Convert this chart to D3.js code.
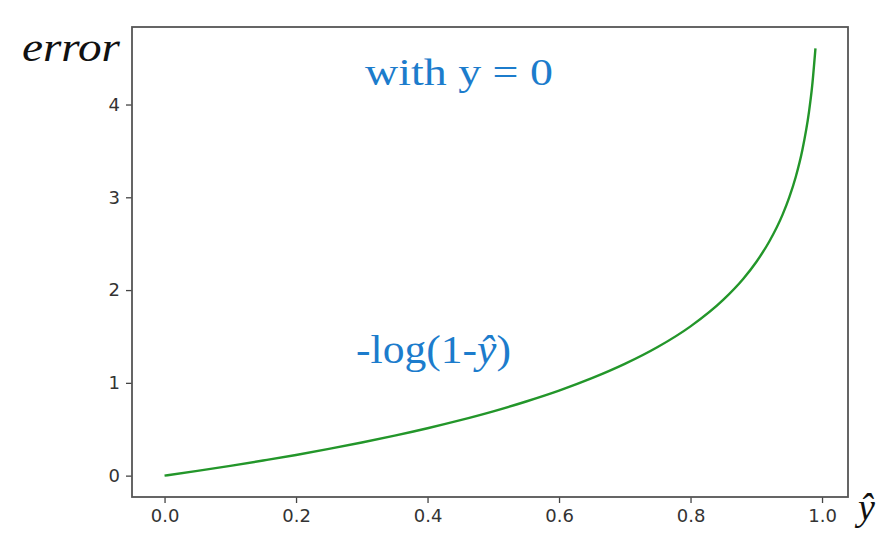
<!DOCTYPE html>
<html>
<head>
<meta charset="utf-8">
<script src="https://cdn.jsdelivr.net/npm/d3@7"></script>
<style>
  html, body { margin: 0; padding: 0; background: #fff; }
  svg { display: block; }
</style>
</head>
<body>
<svg id="chart" width="891" height="542"></svg>
<script>
// Data
const xValues = [0, 0.05, 0.1, 0.15, 0.2, 0.25, 0.3, 0.35, 0.4, 0.45, 0.5, 0.55, 0.6, 0.65, 0.7, 0.75, 0.8, 0.85, 0.88, 0.9, 0.92, 0.94, 0.95, 0.96, 0.97, 0.98, 0.985, 0.99];
const errorValues = [0, 0.051, 0.105, 0.163, 0.223, 0.288, 0.357, 0.431, 0.511, 0.598, 0.693, 0.799, 0.916, 1.05, 1.204, 1.386, 1.609, 1.897, 2.12, 2.303, 2.526, 2.813, 2.996, 3.219, 3.507, 3.912, 4.2, 4.605];
const xTicks = [0.0, 0.2, 0.4, 0.6, 0.8, 1.0];
const yTicks = [0, 1, 2, 3, 4];
const yLabel = "error";
const xLabel = "ŷ";
const titleText = "with y = 0";
const curveLabel = "-log(1-";

const svg = d3.select("#chart");
const plot = { left: 132, right: 848, top: 27, bottom: 497 };

const x = d3.scaleLinear().domain([-0.0495, 1.0395]).range([plot.left, plot.right]);
const y = d3.scaleLinear().domain([-0.2303, 4.8355]).range([plot.bottom, plot.top]);

// curve
const pts = xValues.map((v, i) => [v, errorValues[i]]);
svg.append("path")
  .datum(pts)
  .attr("fill", "none")
  .attr("stroke", "#23962a")
  .attr("stroke-width", 2.4)
  .attr("d", d3.line().x(d => x(d[0])).y(d => y(d[1])).curve(d3.curveMonotoneX));

// axes
const xAxis = d3.axisBottom(x).tickValues(xTicks).tickFormat(d3.format(".1f")).tickSize(6).tickSizeOuter(0).tickPadding(6);
const yAxis = d3.axisLeft(y).tickValues(yTicks).tickFormat(d3.format("d")).tickSize(6).tickSizeOuter(0).tickPadding(6);

const gx = svg.append("g").attr("transform", `translate(0,${plot.bottom})`).call(xAxis);
const gy = svg.append("g").attr("transform", `translate(${plot.left},0)`).call(yAxis);
[gx, gy].forEach(g => {
  g.select(".domain").remove();
  g.selectAll(".tick line").attr("stroke", "#444").attr("stroke-width", 1.3);
  g.selectAll(".tick text").attr("fill", "#333")
    .style("font-family", "'DejaVu Sans', sans-serif").style("font-size", "18px");
});

// frame
svg.append("rect")
  .attr("x", plot.left).attr("y", plot.top)
  .attr("width", plot.right - plot.left).attr("height", plot.bottom - plot.top)
  .attr("fill", "none").attr("stroke", "#555").attr("stroke-width", 1.8);

// axis labels
svg.append("text")
  .attr("x", 22).attr("y", 61)
  .attr("textLength", 98).attr("lengthAdjust", "spacingAndGlyphs")
  .style("font-family", "'Liberation Serif', 'DejaVu Serif', serif")
  .style("font-style", "italic").style("font-size", "40px").attr("fill", "#111")
  .text(yLabel);

svg.append("text")
  .attr("x", 858).attr("y", 520)
  .style("font-family", "'Liberation Serif', 'DejaVu Serif', serif")
  .style("font-style", "italic").style("font-size", "38px").attr("fill", "#111")
  .text(xLabel);

// annotations
svg.append("text")
  .attr("x", 365).attr("y", 85)
  .attr("textLength", 188).attr("lengthAdjust", "spacingAndGlyphs")
  .style("font-family", "'Liberation Serif', 'DejaVu Serif', serif")
  .style("font-size", "38px").attr("fill", "#1c7ccc")
  .text(titleText);

const ann = svg.append("text")
  .attr("x", 356).attr("y", 363)
  .attr("textLength", 155).attr("lengthAdjust", "spacingAndGlyphs")
  .style("font-family", "'Liberation Serif', 'DejaVu Serif', serif")
  .style("font-size", "40px").attr("fill", "#1c7ccc");
ann.append("tspan").text(curveLabel);
ann.append("tspan").style("font-style", "italic").text(xLabel);
ann.append("tspan").text(")");
</script>
</body>
</html>
